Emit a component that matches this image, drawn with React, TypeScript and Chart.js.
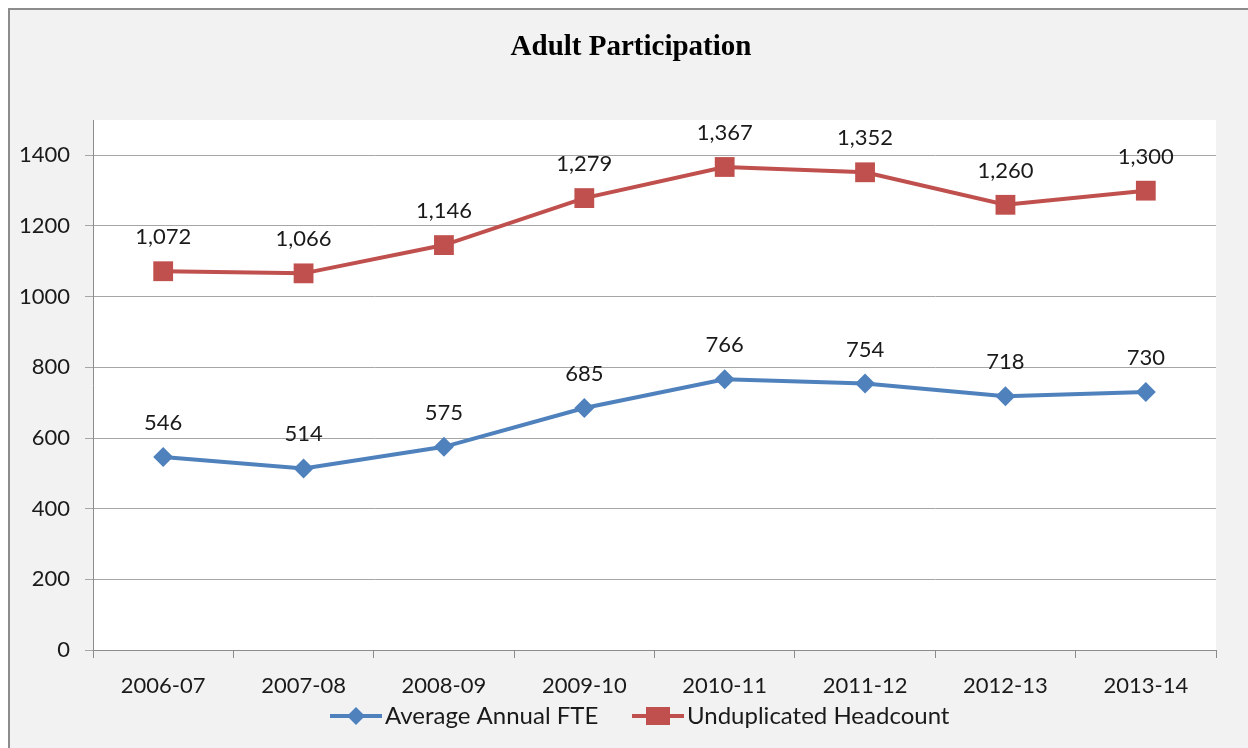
import React, { useEffect, useRef } from "react";
import { Chart, registerables } from "chart.js";

Chart.register(...registerables);

const categories = ["2006-07", "2007-08", "2008-09", "2009-10", "2010-11", "2011-12", "2012-13", "2013-14"];
const fteValues = [546, 514, 575, 685, 766, 754, 718, 730];
const headcountValues = [1072, 1066, 1146, 1279, 1367, 1352, 1260, 1300];
const seriesNames = ["Average Annual FTE", "Unduplicated Headcount"];
const titleText = "Adult Participation";

const BLUE = "#4F81BD";
const RED = "#C0504D";
const FONT = "Lato, 'Open Sans', sans-serif";

const W = 1238;
const H = 738;
const AREA = { left: 83, top: 110, right: 1206, bottom: 640 };

const customPlugin = {
  id: "custom",
  beforeDraw(chart: any) {
    const ctx = chart.ctx;
    ctx.save();
    ctx.fillStyle = "#F2F2F2";
    ctx.fillRect(0, 0, chart.width, chart.height);
    const a = chart.chartArea;
    ctx.fillStyle = "#FFFFFF";
    ctx.fillRect(a.left, a.top, a.right - a.left, a.bottom - a.top);
    ctx.restore();
  },
  afterDraw(chart: any) {
    const ctx = chart.ctx;
    ctx.save();
    // title
    ctx.fillStyle = "#000";
    ctx.font = "bold 29px 'Liberation Serif', 'Times New Roman', serif";
    ctx.textAlign = "center";
    ctx.textBaseline = "middle";
    ctx.fillText(titleText, 621, 38);

    // data labels
    ctx.font = `22px ${FONT}`;
    ctx.fillStyle = "#1a1a1a";
    chart.data.datasets.forEach((ds: any, i: number) => {
      const meta = chart.getDatasetMeta(i);
      meta.data.forEach((pt: any, j: number) => {
        const v = ds.data[j] as number;
        ctx.fillText(v.toLocaleString("en-US"), pt.x, pt.y - 34);
      });
    });

    // legend
    const items = [
      { color: BLUE, style: "diamond", label: seriesNames[0], x: 320 },
      { color: RED, style: "square", label: seriesNames[1], x: 622 },
    ];
    const ly = 706;
    items.forEach((it) => {
      ctx.strokeStyle = it.color;
      ctx.lineWidth = 4;
      ctx.beginPath();
      ctx.moveTo(it.x, ly);
      ctx.lineTo(it.x + 52, ly);
      ctx.stroke();
      ctx.fillStyle = it.color;
      const cx = it.x + 26;
      if (it.style === "diamond") {
        ctx.beginPath();
        ctx.moveTo(cx - 9, ly);
        ctx.lineTo(cx, ly - 9);
        ctx.lineTo(cx + 9, ly);
        ctx.lineTo(cx, ly + 9);
        ctx.closePath();
        ctx.fill();
      } else {
        ctx.fillRect(cx - 12, ly - 9, 24, 18);
      }
      ctx.fillStyle = "#1a1a1a";
      ctx.textAlign = "left";
      ctx.font = `24px ${FONT}`;
      ctx.fillText(it.label, it.x + 55, ly);
    });
    ctx.restore();
  },
};

export default function App() {
  const ref = useRef<HTMLCanvasElement>(null);
  useEffect(() => {
    if (!ref.current) return;
    const chart = new Chart(ref.current, {
      type: "line",
      data: {
        labels: categories,
        datasets: [
          {
            label: seriesNames[0],
            data: fteValues,
            borderColor: BLUE,
            backgroundColor: BLUE,
            borderWidth: 4,
            pointStyle: "rectRot",
            pointRadius: 10,
            pointHoverRadius: 10,
            pointBorderWidth: 0,
            tension: 0,
          },
          {
            label: seriesNames[1],
            data: headcountValues,
            borderColor: RED,
            backgroundColor: RED,
            borderWidth: 4,
            pointStyle: "rect",
            pointRadius: 14,
            pointHoverRadius: 14,
            pointBorderWidth: 0,
            tension: 0,
          },
        ],
      },
      plugins: [customPlugin],
      options: {
        animation: false,
        responsive: false,
        events: [],
        layout: { padding: { left: 0, top: AREA.top, right: W - AREA.right, bottom: H - AREA.bottom - 60 } },
        plugins: { legend: { display: false }, title: { display: false }, tooltip: { enabled: false } },
        scales: {
          x: {
            offset: true,
            afterFit: (s: any) => { s.height = 60; },
            grid: { display: true, drawOnChartArea: false, drawTicks: true, tickLength: 8, color: "#8C8C8C", offset: true },
            border: { color: "#8C8C8C", width: 1 },
            ticks: { color: "#1a1a1a", font: { family: FONT, size: 22 }, padding: 15, maxRotation: 0 },
          },
          y: {
            min: 0,
            max: 1500,
            afterFit: (s: any) => { s.width = AREA.left; },
            grid: { color: "#A6A6A6", tickLength: 8, lineWidth: 1 },
            border: { color: "#8C8C8C", width: 1 },
            ticks: {
              stepSize: 200,
              includeBounds: false,
              color: "#1a1a1a",
              font: { family: FONT, size: 22 },
              padding: 15,
              callback: (v: any) => String(v),
            },
          },
        },
      },
    });
    return () => chart.destroy();
  }, []);
  return (
    <div
      style={{
        position: "fixed",
        left: 8,
        top: 8,
        width: 1240,
        height: 740,
        boxSizing: "border-box",
        borderLeft: "2px solid #8C8C8C",
        borderTop: "2px solid #8C8C8C",
        background: "#F2F2F2",
      }}
    >
      <canvas ref={ref} width={W} height={H} style={{ display: "block", width: W, height: H }} />
    </div>
  );
}
